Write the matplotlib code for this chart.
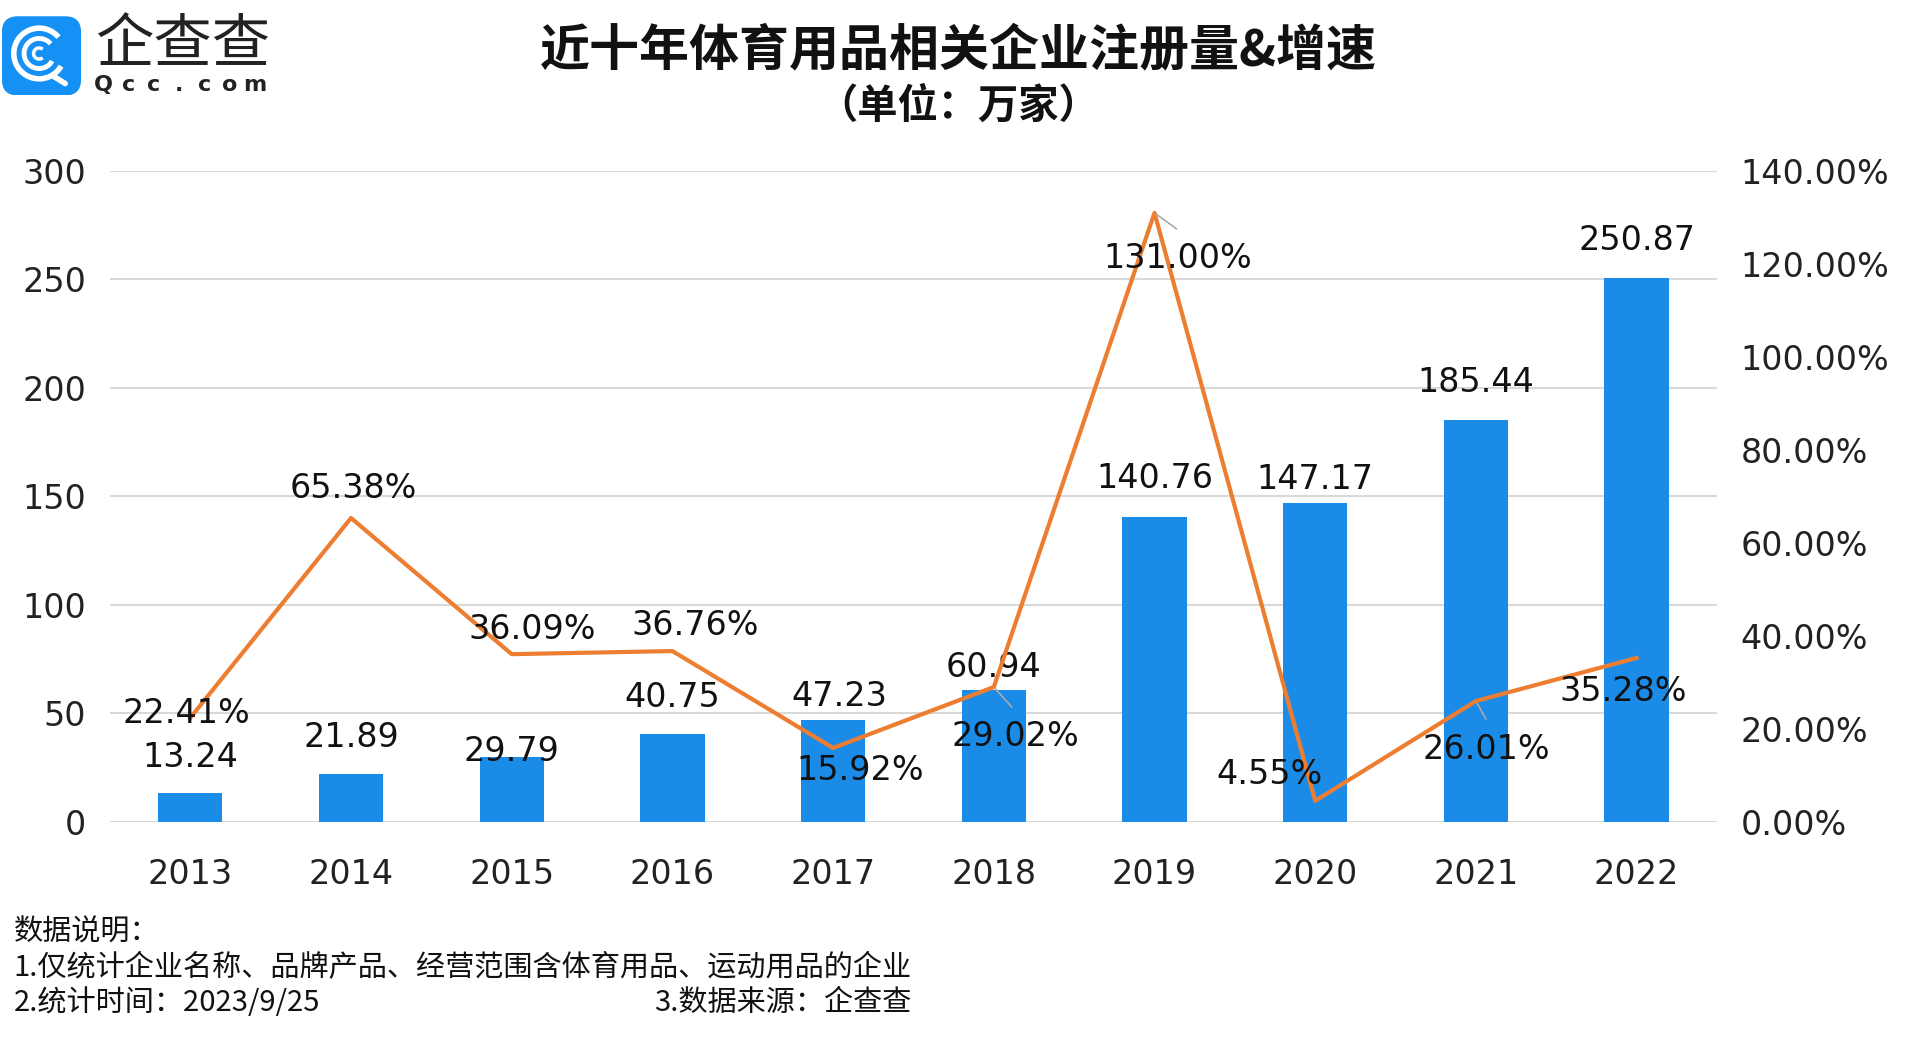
import numpy as np
import matplotlib
matplotlib.use("Agg")
import matplotlib.pyplot as plt
from matplotlib.patches import FancyBboxPatch, Arc

plt.rcParams['font.family'] = ['DejaVu Sans', 'Noto Sans CJK SC']

# data
years = ["2013", "2014", "2015", "2016", "2017", "2018", "2019", "2020", "2021", "2022"]
counts = [13.24, 21.89, 29.79, 40.75, 47.23, 60.94, 140.76, 147.17, 185.44, 250.87]
growth = [22.41, 65.38, 36.09, 36.76, 15.92, 29.02, 131.00, 4.55, 26.01, 35.28]

# label offsets in pixels (dx, dy), positive dy = up
bar_off = [(0, 36), (0, 37), (0, 6), (0, 36), (6, 23), (0, 22), (0, 38), (0, 23), (0, 37), (0, 37)]
line_off = [(-4, 4), (2, 29), (20, 25), (23, 26), (27, -23), (22, -49), (23, -46), (-46, 26), (10, -48), (-13, -34)]

BLUE = "#1a8ce8"
ORANGE = "#ed7d31"
GRID = "#d9d9d9"
CJK = ['Noto Sans CJK SC', 'DejaVu Sans']

fig = plt.figure(figsize=(19.16, 10.49), dpi=100)
ax = fig.add_axes([0.0574, 0.2164, 0.8387, 0.6206])
ax2 = ax.twinx()

x = np.arange(len(years))
ax.bar(x, counts, width=0.4, color=BLUE, zorder=2)
ax.set_ylim(0, 300)
ax.set_xlim(-0.5, len(years) - 0.5)
ax.set_yticks(np.arange(0, 301, 50))
ax.set_xticks(x)
ax.set_xticklabels(years)
ax.yaxis.grid(True, color=GRID, linewidth=1.5, zorder=0)
ax.set_axisbelow(True)
ax.tick_params(axis='both', length=0, labelsize=24, colors='#222222')
ax.tick_params(axis='y', pad=17)
ax.tick_params(axis='x', pad=26)
for s in ax.spines.values():
    s.set_visible(False)

ax2.plot(x, growth, color=ORANGE, linewidth=3, zorder=3)
ax2.set_ylim(0, 140)
ax2.set_yticks(np.arange(0, 141, 20))
ax2.set_yticklabels([f"{v:.2f}%" for v in np.arange(0, 141, 20)])
ax2.tick_params(axis='y', length=0, labelsize=24, pad=17, colors='#222222')
for s in ax2.spines.values():
    s.set_visible(False)

for i, v in enumerate(counts):
    ax.annotate(f"{v:.2f}", (x[i], v), xytext=bar_off[i], textcoords='offset pixels',
                ha='center', va='center', fontsize=24, color='#111111', zorder=5)

for i, v in enumerate(growth):
    ax2.annotate(f"{v:.2f}%", (x[i], v), xytext=line_off[i], textcoords='offset pixels',
                 ha='center', va='center', fontsize=24, color='#111111', zorder=5)

# leader lines
for i, q in {6: (22, -16), 5: (18, -20), 8: (10, -18)}.items():
    ax2.annotate("", (x[i], growth[i]), xytext=q, textcoords='offset pixels',
                 arrowprops=dict(arrowstyle='-', color='#aaaaaa', lw=1.2, shrinkA=0, shrinkB=2))

# title
fig.text(0.5, 0.952, "近十年体育用品相关企业注册量&增速", ha='center', va='center',
         fontsize=36, fontweight='bold', family=CJK, color='#111111')
fig.text(0.5, 0.899, "（单位：万家）", ha='center', va='center',
         fontsize=29, fontweight='bold', family=CJK, color='#111111')

# footer
fig.text(0.007, 0.111, "数据说明：", ha='left', va='center', fontsize=21, family=CJK, color='#111111')
fig.text(0.007, 0.077, "1.仅统计企业名称、品牌产品、经营范围含体育用品、运动用品的企业",
         ha='left', va='center', fontsize=21, family=CJK, color='#111111')
fig.text(0.007, 0.044, "2.统计时间：2023/9/25", ha='left', va='center', fontsize=21, family=CJK, color='#111111')
fig.text(0.476, 0.044, "3.数据来源：企查查", ha='right', va='center', fontsize=21, family=CJK, color='#111111')

# logo
lax = fig.add_axes([0.001, 0.909, 0.0413, 0.0755])
lax.set_xlim(0, 1)
lax.set_ylim(0, 1)
lax.axis('off')
lax.add_patch(FancyBboxPatch((0.0, 0.0), 1.0, 1.0, boxstyle="round,pad=0,rounding_size=0.2",
                             facecolor="#1590f5", edgecolor='none'))
lax.add_patch(Arc((0.47, 0.53), 0.64, 0.64, theta1=40, theta2=330, color='white', lw=4))
lax.add_patch(Arc((0.47, 0.53), 0.38, 0.38, theta1=40, theta2=330, color='white', lw=3.5))
lax.add_patch(Arc((0.47, 0.53), 0.14, 0.14, theta1=50, theta2=310, color='white', lw=2.5))
lax.plot([0.64, 0.80], [0.25, 0.15], color='white', lw=4, solid_capstyle='round')

fig.text(0.0495, 0.957, "企查查", ha='left', va='center', fontsize=42, family=CJK, color='#222222')
for k, ch in enumerate("Qcc.com"):
    fig.text(0.0542 + k * 0.0131, 0.919, ch, ha='center', va='center', fontsize=16,
             fontweight='bold', color='#222222')

fig.savefig("out.png", dpi=100)
